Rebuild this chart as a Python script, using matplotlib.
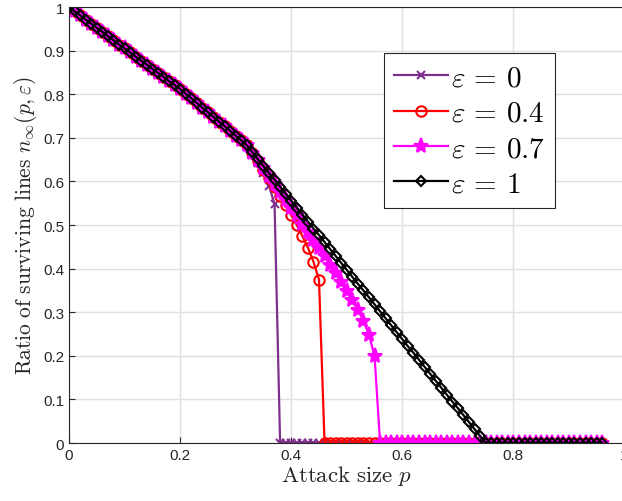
import matplotlib
matplotlib.use("Agg")
import matplotlib.pyplot as plt
import numpy as np

plt.rcParams['mathtext.fontset'] = 'cm'
plt.rcParams['font.family'] = ['Liberation Sans', 'DejaVu Sans']

# attack size p: 0.00 .. 0.96 in steps of 0.01
p = [round(0.01 * i, 2) for i in range(97)]

common = [1.000, 0.990, 0.981, 0.971, 0.962, 0.952, 0.943, 0.933, 0.924, 0.914,
          0.905, 0.896, 0.886, 0.877, 0.868, 0.858, 0.849, 0.840, 0.830, 0.821,
          0.812, 0.801, 0.791, 0.780, 0.769, 0.759, 0.748, 0.737, 0.727, 0.716,
          0.705, 0.694, 0.683]

eps0_tail = [0.664, 0.643, 0.620, 0.590, 0.548]
eps04_tail = [0.665, 0.646, 0.627, 0.607, 0.587, 0.566, 0.545, 0.523, 0.500,
              0.475, 0.448, 0.416, 0.375]
eps07_tail = [0.665, 0.648, 0.630, 0.612, 0.594, 0.576, 0.558, 0.540, 0.522,
              0.503, 0.485, 0.466, 0.447, 0.428, 0.409, 0.389, 0.369, 0.349,
              0.328, 0.306, 0.281, 0.248, 0.200]
eps1_tail = [0.667, 0.651, 0.635, 0.619, 0.604, 0.588, 0.572, 0.556, 0.540,
             0.524, 0.508, 0.492, 0.477, 0.461, 0.445, 0.429, 0.413, 0.397,
             0.381, 0.365, 0.350, 0.334, 0.318, 0.302, 0.286, 0.270, 0.254,
             0.238, 0.222, 0.207, 0.191, 0.175, 0.159, 0.143, 0.127, 0.111,
             0.095, 0.080, 0.064, 0.048, 0.032, 0.016]

def full(tail):
    vals = common + tail
    return vals + [0.0] * (len(p) - len(vals))

series = [
    (full(eps0_tail), r'$\varepsilon\,=\,0$', '#7E2F8E', 'x', 6, dict()),
    (full(eps04_tail), r'$\varepsilon\,=\,0.4$', '#FF0000', 'o', 7.5, dict(mfc='none')),
    (full(eps07_tail), r'$\varepsilon\,=\,0.7$', '#FF00FF', '*', 11, dict()),
    (full(eps1_tail), r'$\varepsilon\,=\,1$', '#000000', 'D', 5.5, dict(mfc='none')),
]

fig = plt.figure(figsize=(6.22, 5.02), dpi=100)
ax = fig.add_axes([0.111, 0.1155, 0.893, 0.8685])

for y, lab, c, m, ms, kw in series:
    ax.plot(p, y, color=c, marker=m, markersize=ms, linewidth=1.6,
            markeredgewidth=1.5, label=lab, **kw)

ax.set_xlim(0, 1)
ax.set_ylim(0, 1)
ax.set_xticks(np.arange(0, 1.01, 0.2))
ax.set_xticklabels(['0', '0.2', '0.4', '0.6', '0.8', '1'])
ax.set_yticks(np.arange(0, 1.01, 0.1))
ax.set_yticklabels(['0', '0.1', '0.2', '0.3', '0.4', '0.5', '0.6', '0.7', '0.8', '0.9', '1'])
ax.tick_params(direction='in', labelsize=11, colors='#262626', length=4)
ax.grid(True, color='#e0e0e0', linewidth=1)
ax.set_axisbelow(True)
for s in ax.spines.values():
    s.set_color('#262626')
    s.set_linewidth(0.8)

ax.set_xlabel(r'$\mathrm{Attack\ size}\ p$', fontsize=16.5, color='#262626', labelpad=1)
ax.set_ylabel(r'$\mathrm{Ratio\ of\ surviving\ lines}\ n_{\infty}(p,\varepsilon)$',
              fontsize=15.5, color='#262626', labelpad=3)

leg = ax.legend(loc='upper left', bbox_to_anchor=(0.567, 0.894), fontsize=21,
                frameon=True, fancybox=False, framealpha=1, edgecolor='#262626',
                handlelength=1.85, handletextpad=0.1, borderpad=0.35, labelspacing=0.25,
                borderaxespad=0)
leg.get_frame().set_linewidth(0.8)

fig.savefig('out.png', dpi=100)
